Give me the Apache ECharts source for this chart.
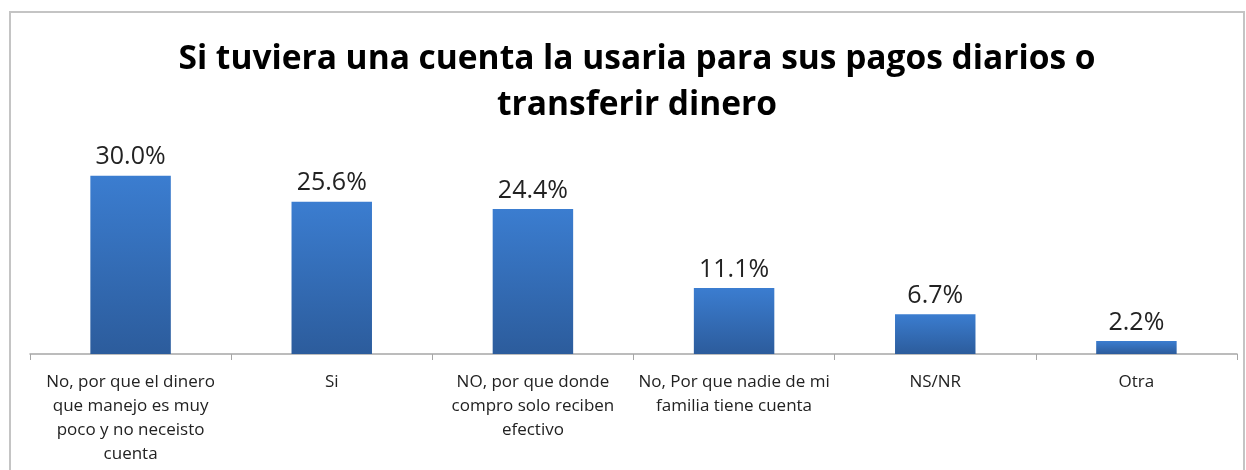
<!DOCTYPE html>
<html>
<head>
<meta charset="utf-8">
<script src="https://cdn.jsdelivr.net/npm/echarts@6/dist/echarts.min.js"></script>
<style>
  html, body { margin: 0; padding: 0; background: #fff; }
  #chart { width: 1246px; height: 470px; }
</style>
</head>
<body>
<div id="chart"></div>
<script>
var titleText = 'Si tuviera una cuenta la usaria para sus pagos diarios o\ntransferir dinero';

var categories = [
  'No, por que el dinero\nque manejo es muy\npoco y no neceisto\ncuenta',
  'Si',
  'NO, por que donde\ncompro solo reciben\nefectivo',
  'No, Por que nadie de mi\nfamilia tiene cuenta',
  'NS/NR',
  'Otra'
];

var values = [30.0, 25.6, 24.4, 11.1, 6.7, 2.2];

var myChart = echarts.init(document.getElementById('chart'));

// bar fill, lighter at top like the original
var barColor = new echarts.graphic.LinearGradient(0, 0, 0, 1, [
  { offset: 0, color: '#3b7dd0' },
  { offset: 1, color: '#2c5c9c' }
]);

option = {
  backgroundColor: '#fff',
  animation: false,
  title: {
    text: titleText,
    left: 632,
    textAlign: 'center',
    top: 31,
    textStyle: {
      fontFamily: 'Open Sans',
      fontWeight: 'bold',
      fontSize: 33.5,
      lineHeight: 46,
      color: '#000'
    }
  },
  graphic: [
    {
      type: 'rect',
      shape: { x: 10, y: 12, width: 1234, height: 470 },
      style: { fill: 'none', stroke: '#c4c4c4', lineWidth: 2 },
      silent: true
    }
  ],
  grid: {
    left: 30,
    right: 9,
    top: 146,
    bottom: 116
  },
  xAxis: {
    type: 'category',
    data: categories,
    axisLine: { lineStyle: { color: '#a6a6a6', width: 1.5 } },
    axisTick: { show: true, length: 6, lineStyle: { color: '#a6a6a6' } },
    axisLabel: {
      interval: 0,
      margin: 16,
      fontFamily: 'Open Sans',
      fontSize: 17,
      lineHeight: 24,
      color: '#222'
    }
  },
  yAxis: {
    type: 'value',
    min: 0,
    max: 35,
    show: false,
    splitLine: { show: false }
  },
  series: [
    {
      type: 'bar',
      data: values,
      barWidth: '40%',
      itemStyle: { color: barColor },
      label: {
        show: true,
        position: 'top',
        distance: 6,
        fontFamily: 'Open Sans',
        fontSize: 25,
        color: '#222',
        formatter: function (p) {
          return p.value.toFixed(1) + '%';
        }
      }
    }
  ]
};

myChart.setOption(option);
</script>
</body>
</html>
